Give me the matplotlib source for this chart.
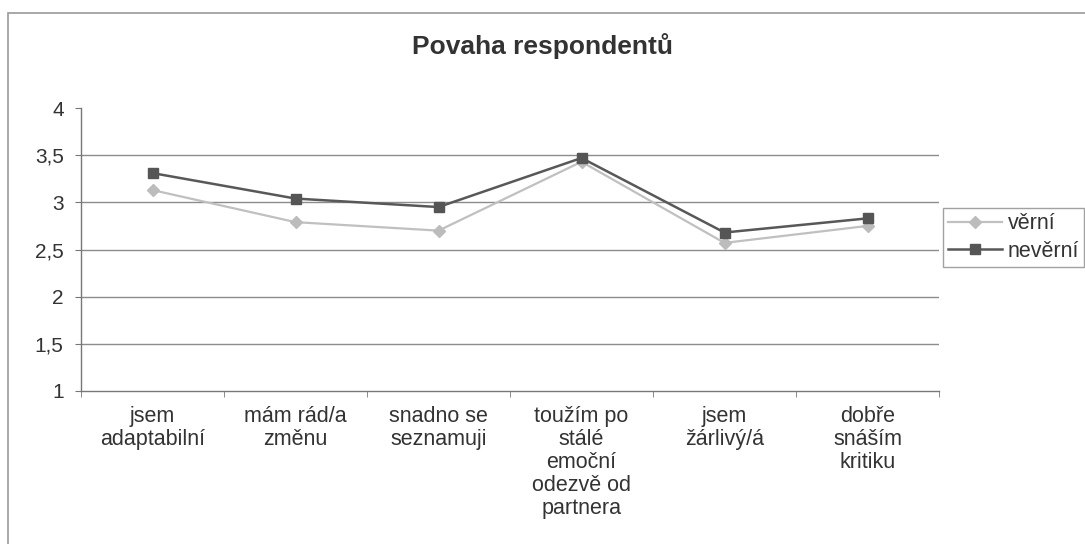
import matplotlib
matplotlib.use("Agg")
import matplotlib.pyplot as plt
from matplotlib.patches import Rectangle

plt.rcParams['font.family'] = ['Liberation Sans', 'DejaVu Sans']

# data
categories = ["jsem\nadaptabilní", "mám rád/a\nzměnu", "snadno se\nseznamuji",
              "toužím po\nstálé\nemoční\nodezvě od\npartnera",
              "jsem\nžárlivý/á", "dobře\nsnáším\nkritiku"]
verni = [3.13, 2.79, 2.70, 3.43, 2.57, 2.75]
neverni = [3.31, 3.04, 2.95, 3.47, 2.68, 2.83]
yticks = [1, 1.5, 2, 2.5, 3, 3.5, 4]
yticklabels = ["1", "1,5", "2", "2,5", "3", "3,5", "4"]

W, H = 1085, 544
fig = plt.figure(figsize=(W / 100, H / 100), dpi=100)
# outer chart frame (right and bottom edges run off the scan)
fig.patches.append(Rectangle((8 / W, -0.05), 1.2, 1 - 13 / H + 0.05, transform=fig.transFigure,
                             fill=False, edgecolor='#9a9a9a', lw=1.2))

ax = fig.add_axes([81 / W, 1 - 391 / H, 858 / W, 283 / H])
x = list(range(len(categories)))

ax.plot(x, verni, color='#c0c0c0', lw=1.6, marker='D', ms=6.5,
        mfc='#bcbcbc', mec='#bcbcbc', label='věrní', zorder=3)
ax.plot(x, neverni, color='#585858', lw=1.8, marker='s', ms=7.5,
        mfc='#555555', mec='#555555', label='nevěrní', zorder=4)

ax.set_xlim(-0.5, len(categories) - 0.5)
ax.set_ylim(1, 4)
ax.set_yticks(yticks)
ax.set_yticklabels(yticklabels, fontsize=15, color='#333333')
ax.set_xticks(x)
ax.set_xticklabels(categories, fontsize=15.5, color='#333333', linespacing=1.12)
ax.set_xticks([i - 0.5 for i in range(len(categories) + 1)], minor=True)
ax.tick_params(axis='x', which='major', length=0, pad=11)
ax.tick_params(axis='x', which='minor', length=4, color='#777777', direction='out')
ax.tick_params(axis='y', length=4.5, color='#777777', pad=8)

for y in yticks[1:-1]:
    ax.axhline(y, color='#8c8c8c', lw=1.0, zorder=1)

for side in ['top', 'right']:
    ax.spines[side].set_visible(False)
for side in ['left', 'bottom']:
    ax.spines[side].set_color('#777777')
    ax.spines[side].set_linewidth(1.0)

fig.text(0.5, 1 - 46 / H, "Povaha respondentů", ha='center', va='center',
         fontsize=19, fontweight='bold', color='#333333')

leg = fig.legend(loc='upper left', bbox_to_anchor=(943 / W, 1 - 208 / H), fontsize=15.5,
                 frameon=True, fancybox=False, edgecolor='#8a8a8a',
                 handlelength=2.5, borderpad=0.25, labelspacing=0.3, handletextpad=0.25,
                 borderaxespad=0.0)
leg.get_frame().set_linewidth(1.0)
for t in leg.get_texts():
    t.set_color('#333333')

fig.savefig("out.png", dpi=100)
